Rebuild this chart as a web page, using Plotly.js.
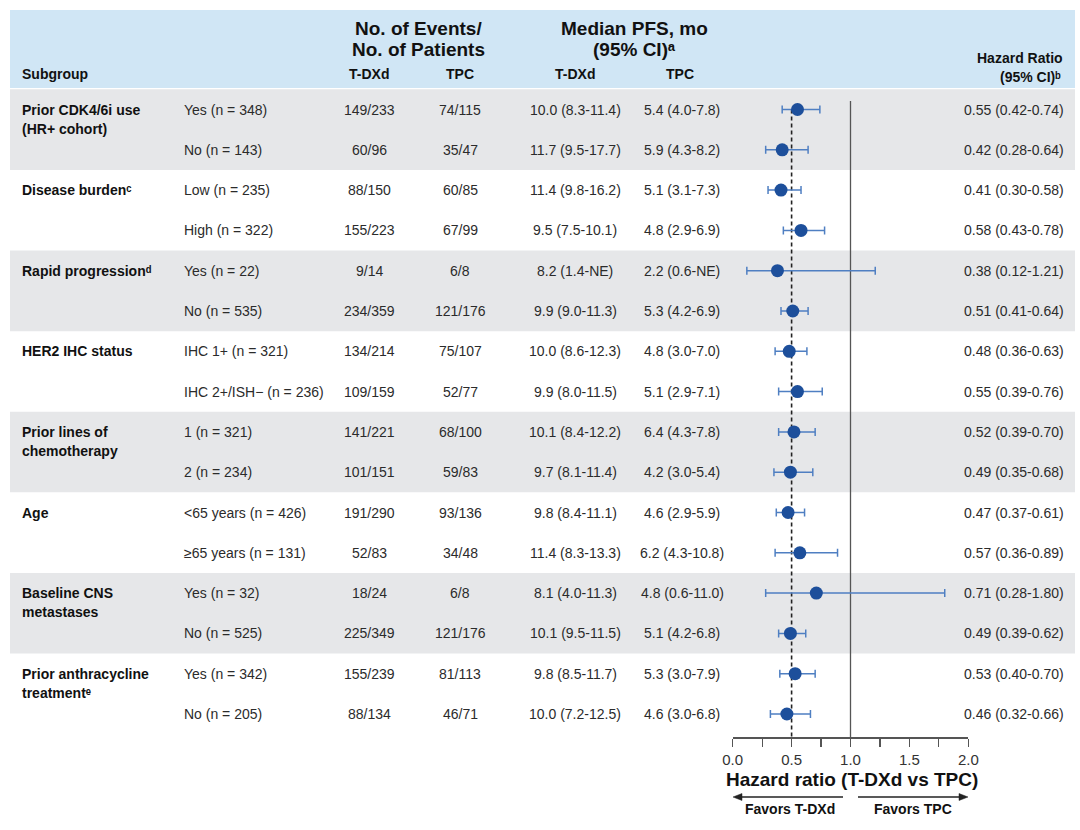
<!DOCTYPE html>
<html>
<head>
<meta charset="utf-8">
<script src="https://cdn.plot.ly/plotly-3.0.1.min.js"></script>
<style>html,body{margin:0;padding:0;background:#fff}#chart{width:1080px;height:830px}</style>
</head>
<body>
<div id="chart"></div>
<script>
// ---------- data ----------
const groupLabels = [['Prior CDK4/6i use', '(HR+ cohort)'], ['Disease burden\u1D9C'], ['Rapid progression\u1D48'],
  ['HER2 IHC status'], ['Prior lines of', 'chemotherapy'], ['Age'], ['Baseline CNS', 'metastases'],
  ['Prior anthracycline', 'treatment\u1D49']];
const rowLabels = ['Yes (n = 348)', 'No (n = 143)', 'Low (n = 235)', 'High (n = 322)', 'Yes (n = 22)', 'No (n = 535)',
  'IHC 1+ (n = 321)', 'IHC 2+/ISH\u2212 (n = 236)', '1 (n = 321)', '2 (n = 234)', '&lt;65 years (n = 426)',
  '\u226565 years (n = 131)', 'Yes (n = 32)', 'No (n = 525)', 'Yes (n = 342)', 'No (n = 205)'];
const tdxdEvents = ['149/233','60/96','88/150','155/223','9/14','234/359','134/214','109/159','141/221','101/151',
  '191/290','52/83','18/24','225/349','155/239','88/134'];
const tpcEvents = ['74/115','35/47','60/85','67/99','6/8','121/176','75/107','52/77','68/100','59/83',
  '93/136','34/48','6/8','121/176','81/113','46/71'];
const tdxdPFS = ['10.0 (8.3-11.4)','11.7 (9.5-17.7)','11.4 (9.8-16.2)','9.5 (7.5-10.1)','8.2 (1.4-NE)','9.9 (9.0-11.3)',
  '10.0 (8.6-12.3)','9.9 (8.0-11.5)','10.1 (8.4-12.2)','9.7 (8.1-11.4)','9.8 (8.4-11.1)','11.4 (8.3-13.3)',
  '8.1 (4.0-11.3)','10.1 (9.5-11.5)','9.8 (8.5-11.7)','10.0 (7.2-12.5)'];
const tpcPFS = ['5.4 (4.0-7.8)','5.9 (4.3-8.2)','5.1 (3.1-7.3)','4.8 (2.9-6.9)','2.2 (0.6-NE)','5.3 (4.2-6.9)',
  '4.8 (3.0-7.0)','5.1 (2.9-7.1)','6.4 (4.3-7.8)','4.2 (3.0-5.4)','4.6 (2.9-5.9)','6.2 (4.3-10.8)',
  '4.8 (0.6-11.0)','5.1 (4.2-6.8)','5.3 (3.0-7.9)','4.6 (3.0-6.8)'];
const hr    = [0.55,0.42,0.41,0.58,0.38,0.51,0.48,0.55,0.52,0.49,0.47,0.57,0.71,0.49,0.53,0.46];
const hrLow = [0.42,0.28,0.30,0.43,0.12,0.41,0.36,0.39,0.39,0.35,0.37,0.36,0.28,0.39,0.40,0.32];
const hrHigh= [0.74,0.64,0.58,0.78,1.21,0.64,0.63,0.76,0.70,0.68,0.61,0.89,1.80,0.62,0.70,0.66];
const rowsPerGroup = 2;
const refLine = 0.5;
const xTickVals = [0, 0.5, 1, 1.5, 2];
const xTickText = ['0.0', '0.5', '1.0', '1.5', '2.0'];

// ---------- layout helpers ----------
const W = 1080, H = 830;
const row0 = 109.5, rowStep = 40.3, axisY = 737.3;
const PX = p => p / W;                 // paper x from pixel
const PY = p => 1 - p / H;             // paper y from pixel
const R = p => (p - row0) / rowStep;   // row units from pixel y
const FONT = 'Liberation Sans, Arial, Helvetica, sans-serif';
const txt = '#2b2b2b', bold = '#111111';

const rows = hr.map((_, i) => i);
const shapes = [];
const annotations = [];

// header band
shapes.push({type:'rect', xref:'paper', yref:'paper', x0:PX(10), x1:PX(1075), y0:PY(88), y1:PY(10),
  fillcolor:'#d0e6f5', line:{width:0}, layer:'below'});
// alternating grey bands
groupLabels.forEach((g, gi) => {
  if (gi % 2 === 0) {
    const s = gi * rowsPerGroup;
    shapes.push({type:'rect', xref:'paper', yref:'y', x0:PX(10), x1:PX(1075), y0:s - 0.5, y1:s + rowsPerGroup - 0.5,
      fillcolor:'#e6e7e9', line:{width:0}, layer:'below'});
  }
});
// vertical reference lines
shapes.push({type:'line', xref:'x', yref:'y', x0:1, x1:1, y0:R(101), y1:R(axisY),
  line:{color:'#555555', width:1.3}, layer:'below'});
shapes.push({type:'line', xref:'x', yref:'y', x0:refLine, x1:refLine, y0:0, y1:R(axisY),
  line:{color:'#222222', width:1.6, dash:'4px,3px'}, layer:'below'});

// favors arrows (line + head)
const arrowY = 797;
shapes.push({type:'line', xref:'paper', yref:'paper', x0:PX(843), x1:PX(739), y0:PY(arrowY), y1:PY(arrowY),
  line:{color:'#222', width:1.3}});
shapes.push({type:'path', xref:'paper', yref:'paper', fillcolor:'#222', line:{color:'#222', width:0.5},
  path:`M ${PX(733)},${PY(arrowY)} L ${PX(742)},${PY(arrowY-3.5)} L ${PX(742)},${PY(arrowY+3.5)} Z`});
shapes.push({type:'line', xref:'paper', yref:'paper', x0:PX(858), x1:PX(962), y0:PY(arrowY), y1:PY(arrowY),
  line:{color:'#222', width:1.3}});
shapes.push({type:'path', xref:'paper', yref:'paper', fillcolor:'#222', line:{color:'#222', width:0.5},
  path:`M ${PX(968)},${PY(arrowY)} L ${PX(959)},${PY(arrowY-3.5)} L ${PX(959)},${PY(arrowY+3.5)} Z`});

function ann(text, x, y, opts) {
  annotations.push(Object.assign({text:text, xref:'paper', yref:'y', x:PX(x), y:y, showarrow:false,
    xanchor:'center', yanchor:'middle', font:{family:FONT, size:14, color:txt}}, opts || {}));
}
const boldFont = s => ({family:FONT, size:s, color:bold, weight:'bold'});

// header texts
const hdr = {yref:'paper', font:boldFont(19)};
ann('No. of Events/', 418, PY(28), hdr);
ann('No. of Patients', 418, PY(50), hdr);
ann('Median PFS, mo', 634, PY(28), hdr);
ann('(95% CI)\u1D43', 634, PY(50), hdr);
const sub = {yref:'paper', font:boldFont(14)};
ann('Subgroup', 20, PY(74), Object.assign({xanchor:'left'}, sub));
ann('T-DXd', 369, PY(74), sub);
ann('TPC', 460, PY(74), sub);
ann('T-DXd', 575, PY(74), sub);
ann('TPC', 680, PY(74), sub);
ann('Hazard Ratio', 1065, PY(58), Object.assign({xanchor:'right'}, sub));
ann('(95% CI)\u1D47', 1063, PY(77), Object.assign({xanchor:'right'}, sub));

// group labels (one annotation per line)
const lineGap = 19 / rowStep;
groupLabels.forEach((g, gi) => {
  g.forEach((line, li) => {
    ann(line, 20, gi * rowsPerGroup + li * lineGap, {xanchor:'left', font:boldFont(14)});
  });
});
// row texts
rows.forEach(i => {
  ann(rowLabels[i], 182, i, {xanchor:'left'});
  ann(tdxdEvents[i], 369, i);
  ann(tpcEvents[i], 460, i);
  ann(tdxdPFS[i], 575, i);
  ann(tpcPFS[i], 682, i);
  ann(hr[i].toFixed(2) + ' (' + hrLow[i].toFixed(2) + '-' + hrHigh[i].toFixed(2) + ')', 1066, i, {xanchor:'right'});
});

// axis title and favors labels
ann('Hazard ratio (T-DXd vs TPC)', 852, PY(779), {yref:'paper', font:boldFont(19)});
ann('Favors T-DXd', 790, PY(809), {yref:'paper', font:boldFont(14)});
ann('Favors TPC', 913, PY(809), {yref:'paper', font:boldFont(14)});

const trace = {
  type:'scatter', mode:'markers', x:hr, y:rows,
  marker:{color:'#1d4f9b', size:13, line:{width:0}},
  error_x:{type:'data', symmetric:false,
    array:hr.map((v, i) => hrHigh[i] - v), arrayminus:hr.map((v, i) => v - hrLow[i]),
    color:'#4f7fc2', thickness:1.5, width:4},
  hoverinfo:'skip', cliponaxis:false
};

const layout = {
  width:W, height:H, margin:{l:0, r:0, t:0, b:0},
  paper_bgcolor:'#ffffff', plot_bgcolor:'rgba(0,0,0,0)', showlegend:false,
  font:{family:FONT, size:14, color:txt},
  xaxis:{domain:[PX(732.7), PX(968.3)], range:[0, 2], anchor:'free', position:PY(axisY),
    tickmode:'array', tickvals:xTickVals, ticktext:xTickText, ticks:'outside', ticklen:8,
    tickwidth:1.2, tickcolor:'#555', showline:true, linecolor:'#555', linewidth:1.2,
    minor:{dtick:0.25, tick0:0, ticks:'outside', ticklen:8, tickwidth:1.2, tickcolor:'#555', showgrid:false},
    showgrid:false, zeroline:false, tickfont:{family:FONT, size:15, color:'#333'}, fixedrange:true},
  yaxis:{domain:[0, 1], range:[R(H), R(0)], visible:false, showgrid:false, zeroline:false, fixedrange:true},
  shapes:shapes, annotations:annotations
};

Plotly.newPlot('chart', [trace], layout, {staticPlot:true, displayModeBar:false});
</script>
</body>
</html>
